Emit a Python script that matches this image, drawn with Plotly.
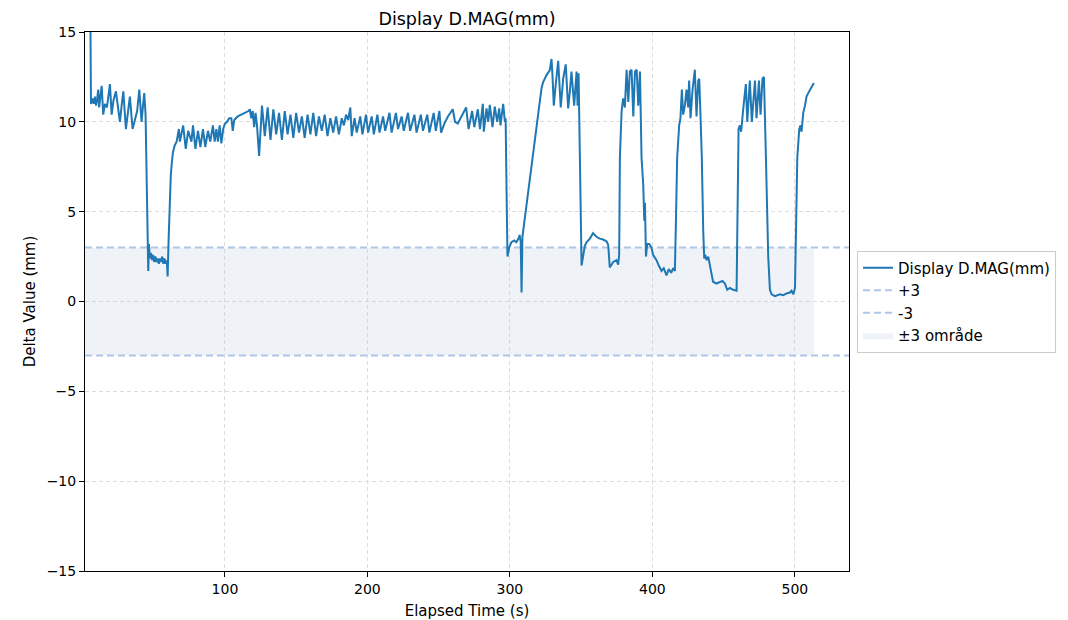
import plotly.graph_objects as go

# ---- data ----
elapsed_time = [
    1.8, 6.0, 7.0, 8.0, 8.8, 9.6, 10.4, 11.1, 11.7, 12.6, 13.5, 14.6, 15.8, 17.2, 19.3, 20.5,
    21.8, 23.5, 24.6, 26.3, 27.5, 28.7, 30.5, 31.8, 33.3, 35.2, 36.8, 38.4, 39.9, 41.5, 42.5,
    43.4, 44.3, 45.0, 45.6, 46.2, 46.7, 47.3, 48.0, 48.8, 49.6, 50.4, 51.2, 52.0, 52.8, 53.6,
    54.4, 55.2, 56.0, 56.8, 57.6, 58.4, 59.2, 59.8, 60.5, 61.3, 62.0, 62.6, 63.5, 64.8, 66.1,
    67.7, 68.4, 70.7, 72.5, 74.2, 76.5, 77.6, 79.3, 81.1, 82.8, 84.6, 86.2, 88.1, 89.7, 91.6,
    92.8, 94.0, 95.1, 96.3, 97.5, 98.8, 100.0, 101.5, 103.0, 104.5, 105.5, 106.5, 109.0, 111.5,
    114.0, 116.5, 117.5, 118.5, 119.5, 120.5, 121.5, 122.5, 124.0, 125.0,
    126.0, 128.0, 130.0, 132.0, 134.0, 136.0, 138.0, 140.0, 142.0, 144.0, 146.0, 148.0, 150.0,
    152.0, 154.0, 156.0, 158.0, 160.0, 162.0, 164.0, 166.0, 168.0, 170.0, 172.0, 174.0, 176.0,
    178.0, 180.0, 182.0, 183.5, 185.0, 186.5, 188.0, 189.0,
    191.0, 192.5, 195.0, 196.5, 199.0, 200.5, 203.0, 204.5, 207.0, 208.5, 211.0, 212.5, 215.5,
    217.0, 220.0, 221.5, 224.0, 225.5, 228.5, 230.0, 233.0, 234.5, 237.5, 239.0, 242.0, 243.5,
    246.5, 248.0, 250.5, 251.7, 254.0, 256.5, 259.9, 261.5, 263.4, 266.0, 269.3, 271.0, 273.5,
    275.0, 277.5, 279.0, 281.0, 281.7, 283.6, 284.8, 285.9, 287.8, 289.4, 291.1, 292.5, 293.4,
    295.3, 296.5, 297.0, 297.7, 298.3, 299.5, 301.1, 303.0, 304.5, 306.0, 306.8, 307.6, 308.2,
    308.8, 322.2, 323.3, 325.7, 328.0, 329.2, 329.9, 330.8, 332.2, 333.9, 335.7, 337.4, 339.2,
    340.9, 342.1, 343.2, 345.1, 346.8, 347.5, 348.2, 350.3, 351.4, 352.6, 353.8, 356.1, 358.4,
    359.6, 360.8, 363.1, 365.4, 367.8, 369.0, 370.1, 371.3, 372.5, 374.8, 376.0, 376.7, 377.2,
    378.4, 379.5, 380.7, 381.9, 383.1, 384.2, 385.4, 386.6, 387.8, 389.0, 390.1, 391.3, 392.4,
    393.6, 394.3, 394.8, 395.5, 396.4, 397.8, 399.4, 400.5, 402.9, 404.5, 406.4, 408.0, 409.9,
    411.5, 413.2, 414.6, 415.8, 416.5, 417.4, 418.8, 419.7, 420.7, 421.6, 422.8, 424.0, 425.1,
    425.8, 426.8, 428.2, 429.8, 431.0, 432.2, 432.9, 433.8, 434.7, 435.7, 436.4, 437.1, 438.0,
    439.2, 440.3, 441.5, 442.6, 445.0, 447.3, 449.2, 450.9, 452.5, 454.4, 456.7, 459.1, 459.5,
    460.5, 461.4, 462.3, 463.8, 465.6, 466.6, 468.4, 469.8, 472.0, 473.1, 474.8, 475.9, 477.3,
    478.3, 479.0, 479.7, 481.3, 482.5, 483.7, 486.0, 489.5, 491.9, 494.2, 496.5, 497.7, 498.9,
    500.1, 500.8, 501.7, 503.1, 504.0, 504.7, 505.9, 507.1, 508.2, 509.4, 510.6, 511.8, 512.9,
    513.4,
]
delta_value = [
    60.0, 11.0, 11.3, 11.0, 11.4, 10.9, 11.3, 11.8, 10.8, 11.4, 12.0, 10.4, 11.0, 10.8, 12.1, 10.4,
    11.2, 11.7, 11.0, 10.0, 10.9, 11.7, 9.6, 10.6, 11.4, 9.6, 10.2, 10.6, 11.8, 10.0, 10.9,
    11.6, 10.4, 6.0, 2.8, 1.7, 3.2, 2.4, 2.7, 2.3, 2.6, 2.2, 2.5, 2.2, 2.4, 2.1,
    2.4, 2.2, 2.5, 2.1, 2.4, 2.1, 2.3, 1.4, 3.5, 6.0, 7.0, 7.6, 8.3, 8.7, 8.9,
    9.6, 8.9, 9.8, 8.5, 9.5, 8.9, 9.8, 8.5, 9.5, 8.6, 9.6, 8.6, 9.5, 8.9, 9.8,
    8.9, 9.6, 8.9, 9.8, 8.8, 9.6, 9.9, 10.0, 10.2, 10.2, 9.5, 10.1, 10.3, 10.4,
    10.5, 10.6, 10.7, 10.2, 10.6, 9.7, 10.5, 9.8, 8.1, 9.5,
    10.9, 9.2, 10.8, 9.0, 10.7, 9.3, 10.5, 9.0, 10.6, 9.3, 10.4, 9.1, 10.5,
    9.4, 10.3, 9.1, 10.4, 9.3, 10.5, 9.2, 10.3, 9.5, 10.4, 9.2, 10.2, 9.4,
    10.3, 9.3, 10.2, 9.8, 10.4, 10.1, 10.8, 9.2,
    10.2, 9.4, 10.3, 9.3, 10.4, 9.4, 10.3, 9.3, 10.4, 9.4, 10.3, 9.5, 10.5,
    9.4, 10.5, 9.6, 10.3, 9.5, 10.5, 9.5, 10.4, 9.4, 10.4, 9.5, 10.4, 9.4,
    10.5, 9.5, 10.6, 9.4, 9.9, 10.3, 10.7, 10.0, 9.9, 10.3, 10.8, 9.6, 10.6,
    9.7, 10.7, 9.6, 11.0, 9.45, 10.75, 10.0, 10.94, 9.7, 10.85, 10.0, 10.75, 9.8,
    11.0, 10.0, 10.2, 6.0, 2.5, 3.0, 3.3, 3.4, 3.3, 3.5, 3.7, 3.3, 0.5,
    3.6, 11.87, 12.2, 12.6, 12.87, 13.5, 12.6, 10.9, 12.1, 13.4, 10.8, 12.4, 13.2,
    10.75, 11.7, 12.8, 10.9, 12.8, 10.9, 12.7, 2.0, 2.6, 3.1, 3.3, 3.5, 3.8,
    3.7, 3.6, 3.5, 3.45, 3.35, 3.15, 1.9, 2.05, 2.2, 2.3, 2.05, 2.6, 8.0,
    10.6, 11.3, 10.8, 12.9, 11.1, 12.8, 12.9, 10.3, 12.8, 12.9, 10.9, 12.8, 8.0,
    6.5, 4.5, 5.5, 2.5, 3.2, 3.2, 3.0, 2.6, 2.3, 2.0, 1.7, 1.85, 1.45,
    1.8, 1.6, 1.85, 1.7, 4.3, 8.0, 9.8, 10.2, 11.8, 10.4, 10.9, 11.8, 10.8,
    12.3, 10.2, 11.8, 12.9, 10.3, 12.3, 12.4, 10.3, 8.0, 3.9, 2.4, 2.6, 2.3,
    2.5, 2.0, 1.5, 1.1, 1.0, 1.1, 1.15, 1.0, 0.65, 0.75, 0.65, 0.6, 4.0,
    9.6, 9.8, 9.45, 10.75, 12.1, 10.0, 12.3, 10.0, 12.3, 10.2, 12.3, 10.4, 12.4,
    12.5, 10.6, 8.0, 2.5, 0.65, 0.4, 0.3, 0.4, 0.35, 0.45, 0.5, 0.6, 0.4,
    0.75, 4.3, 8.0, 9.6, 9.8, 9.45, 10.5, 10.9, 11.4, 11.6, 11.8, 12.0, 12.1,
    12.15,
]

threshold = 3
x_limits = [1.8, 538]
y_limits = [-15, 15]
x_ticks = [100, 200, 300, 400, 500]
y_ticks = [-15, -10, -5, 0, 5, 10, 15]

series_name = "Display D.MAG(mm)"
band_name = "±3 område"

FONT = "DejaVu Sans, Verdana, sans-serif"
BLUE = "#1f77b4"
LIGHT = "#aec7e8"

t_min, t_max = min(elapsed_time), max(elapsed_time)

fig = go.Figure()

# ±3 band
fig.add_trace(go.Scatter(
    x=[t_min, t_max, t_max, t_min, t_min],
    y=[-threshold, -threshold, threshold, threshold, -threshold],
    fill="toself", fillcolor="rgba(176,196,222,0.2)",
    line=dict(width=0, color="rgba(176,196,222,0.2)"), mode="lines",
    name=band_name, legendrank=4, legendgroup="d", hoverinfo="skip",
))
# +3 / -3 lines across the full axis
fig.add_trace(go.Scatter(
    x=x_limits, y=[threshold, threshold], mode="lines",
    line=dict(color=LIGHT, width=2, dash="7px,4px"),
    name="+3", legendrank=2, legendgroup="b",
))
fig.add_trace(go.Scatter(
    x=x_limits, y=[-threshold, -threshold], mode="lines",
    line=dict(color=LIGHT, width=2, dash="7px,4px"),
    name="-3", legendrank=3, legendgroup="c",
))
# main series
fig.add_trace(go.Scatter(
    x=elapsed_time, y=delta_value, mode="lines",
    line=dict(color=BLUE, width=2),
    name=series_name, legendrank=1, legendgroup="a",
))

axis_common = dict(
    showline=True, linecolor="black", linewidth=1, mirror=True,
    ticks="outside", ticklen=5, tickcolor="black", tickwidth=1,
    showgrid=True, gridcolor="#dcdcdc", gridwidth=1, griddash="4px,3px",
    zeroline=False, tickfont=dict(family=FONT, size=14, color="black"),
)

fig.update_xaxes(
    range=x_limits, tickmode="array", tickvals=x_ticks,
    title=dict(text="Elapsed Time (s)", font=dict(family=FONT, size=15, color="black"), standoff=10),
    **axis_common,
)
fig.update_yaxes(
    range=y_limits, tickmode="array", tickvals=y_ticks,
    title=dict(text="Delta Value (mm)", font=dict(family=FONT, size=15, color="black"), standoff=7),
    **axis_common,
)

# page is rendered with an 8px body offset, so the figure is sized to compensate
fig.update_layout(
    width=1060, height=612,
    margin=dict(l=77, r=219, t=24, b=49, autoexpand=False),
    paper_bgcolor="white", plot_bgcolor="white",
    font=dict(family=FONT, size=14, color="black"),
    title=dict(text="Display D.MAG(mm)", x=0.5, xref="paper", xanchor="center",
               y=1 - 10.5 / 612, yref="container", yanchor="middle",
               font=dict(family=FONT, size=17.5, color="black")),
    legend=dict(
        x=1.0105, xanchor="left", y=0.5, yanchor="middle",
        bgcolor="white", bordercolor="#cccccc", borderwidth=1,
        font=dict(family=FONT, size=15, color="black"),
        traceorder="grouped", tracegroupgap=0, itemwidth=30,
    ),
    showlegend=True,
)

fig.write_html("out.html")
